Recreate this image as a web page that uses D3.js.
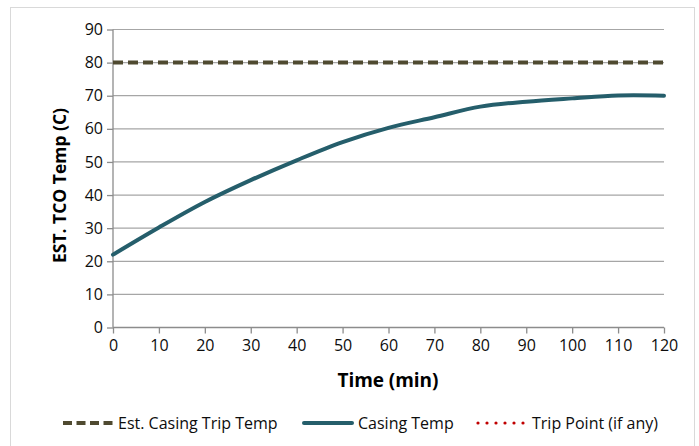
<!DOCTYPE html>
<html>
<head>
<meta charset="utf-8">
<script src="https://cdn.jsdelivr.net/npm/d3@7"></script>
<style>
  body { margin: 0; background: #fff; }
  svg { display: block; font-family: "Open Sans", sans-serif; }
</style>
</head>
<body>
<div id="chart_box"></div>
<script>
// casing temperature
timeValues = [0, 10, 20, 30, 40, 50, 60, 70, 80, 90, 100, 110, 120]
casingTemps = [22, 30.2, 37.9, 44.5, 50.5, 56, 60.3, 63.5, 66.7, 68.2, 69.2, 70.05, 70]
tripTemp = 80
xTicks = [0, 10, 20, 30, 40, 50, 60, 70, 80, 90, 100, 110, 120]
yTicks = [0, 10, 20, 30, 40, 50, 60, 70, 80, 90]
legendNames = ["Est. Casing Trip Temp", "Casing Temp", "Trip Point (if any)"]

function create_chart() {
    width = 699
    height = 446

    const svg = d3.select("#chart_box").append("svg")
        .attr("width", width)
        .attr("height", height)

    // outer chart frame
    svg.append("rect")
        .attr("x", 10.5)
        .attr("y", 7.5)
        .attr("width", 684)
        .attr("height", 460)
        .attr("fill", "none")
        .attr("stroke", "#d9d9d9")
        .attr("stroke-width", 1)

    const x = d3.scaleLinear().domain([0, 120]).range([113, 664])
    const y = d3.scaleLinear().domain([0, 90]).range([327.5, 29.5])

    // gridlines
    svg.append("g").selectAll("line")
        .data(yTicks.slice(1))
        .join("line")
        .attr("x1", x(0))
        .attr("x2", x(120))
        .attr("y1", d => y(d))
        .attr("y2", d => y(d))
        .attr("stroke", "#a6a6a6")
        .attr("stroke-width", 1.2)

    const yAxis = svg.append("g")
        .attr("transform", "translate(" + x(0) + ",0)")
        .call(d3.axisLeft(y).tickValues(yTicks).tickSize(6).tickPadding(4))
    const xAxis = svg.append("g")
        .attr("transform", "translate(0," + y(0) + ")")
        .call(d3.axisBottom(x).tickValues(xTicks).tickSize(6).tickPadding(6))

    for (const ax of [xAxis, yAxis]) {
        ax.select(".domain").attr("stroke", "#8c8c8c").attr("stroke-width", 1.3)
        ax.selectAll(".tick line").attr("stroke", "#8c8c8c").attr("stroke-width", 1.3)
        ax.selectAll("text")
            .attr("fill", "#0d0d0d")
            .style("font-family", "Open Sans")
            .style("font-size", "16px")
    }
    yAxis.selectAll(".domain").attr("d", "M0," + y(0) + "V" + y(90))
    xAxis.selectAll(".domain").attr("d", "M" + x(0) + ",0H" + x(120))

    // axis titles
    svg.append("text")
        .attr("x", 388)
        .attr("y", 387)
        .attr("text-anchor", "middle")
        .style("font-size", "19px")
        .style("font-weight", "bold")
        .attr("textLength", 101)
        .text("Time (min)")

    svg.append("text")
        .attr("transform", "translate(66,185.5) rotate(-90)")
        .attr("text-anchor", "middle")
        .style("font-size", "18.5px")
        .style("font-weight", "bold")
        .attr("textLength", 155)
        .attr("lengthAdjust", "spacingAndGlyphs")
        .text("EST. TCO Temp (C)")

    // trip temperature (dashed)
    svg.append("line")
        .attr("x1", x(0))
        .attr("x2", x(120))
        .attr("y1", y(tripTemp))
        .attr("y2", y(tripTemp))
        .attr("stroke", "#4f4a30")
        .attr("stroke-width", 4)
        .attr("stroke-dasharray", "10,5")

    // casing temp curve
    const line = d3.line()
        .x((d, i) => x(timeValues[i]))
        .y(d => y(d))
        .curve(d3.curveCatmullRom.alpha(0.5))

    svg.append("path")
        .attr("d", line(casingTemps))
        .attr("fill", "none")
        .attr("stroke", "#255e6b")
        .attr("stroke-width", 4)
        .attr("stroke-linecap", "round")

    // legend
    const legendY = 423
    const legend = svg.append("g")
    legend.append("line")
        .attr("x1", 63).attr("x2", 113)
        .attr("y1", legendY).attr("y2", legendY)
        .attr("stroke", "#4f4a30")
        .attr("stroke-width", 4)
        .attr("stroke-dasharray", "9,4.5")
    legend.append("line")
        .attr("x1", 304).attr("x2", 352)
        .attr("y1", legendY).attr("y2", legendY)
        .attr("stroke", "#255e6b")
        .attr("stroke-width", 4)
        .attr("stroke-linecap", "round")
    legend.selectAll("circle")
        .data(d3.range(6))
        .join("circle")
        .attr("cx", d => 478 + d * 9)
        .attr("cy", legendY)
        .attr("r", 1.6)
        .attr("fill", "#c00000")

    legend.selectAll("text")
        .data(legendNames)
        .join("text")
        .attr("x", (d, i) => [118, 358, 532][i])
        .attr("y", legendY)
        .attr("dy", "0.35em")
        .attr("fill", "#0d0d0d")
        .style("font-size", "16px")
        .text(d => d)
}

create_chart()
</script>
</body>
</html>
